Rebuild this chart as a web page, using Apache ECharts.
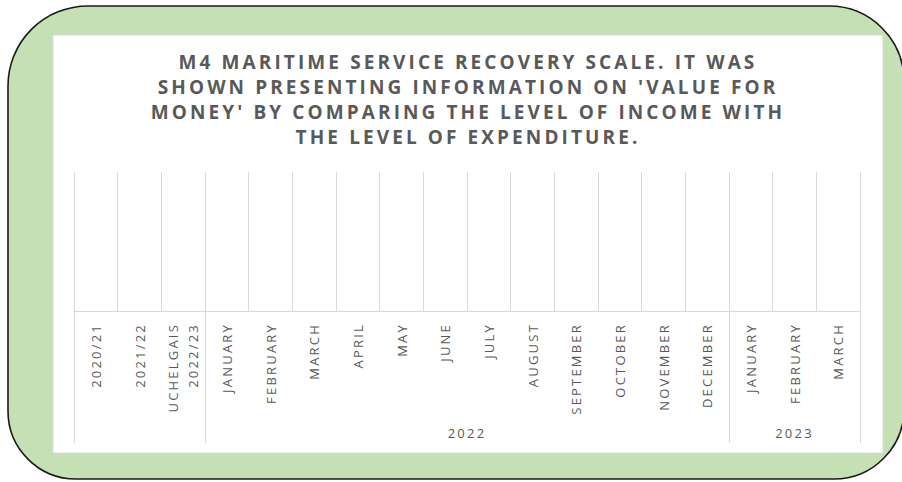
<!DOCTYPE html>
<html><head><meta charset="utf-8">
<script src="https://cdn.jsdelivr.net/npm/echarts@6/dist/echarts.min.js"></script>
<style>
html,body{margin:0;padding:0;background:#fff;}
#c{width:902px;height:482px;}
#c text{letter-spacing:2.2px;}
#c text[style*="bold"]{letter-spacing:3.1px;}
</style></head>
<body><div id="c"></div>
<script>
const titleText = "M4 MARITIME SERVICE RECOVERY SCALE. IT WAS\nSHOWN PRESENTING INFORMATION ON 'VALUE FOR\nMONEY' BY COMPARING THE LEVEL OF INCOME WITH\nTHE LEVEL OF EXPENDITURE.";
const categories = ['2020/21','2021/22','UCHELGAIS\n2022/23','JANUARY','FEBRUARY','MARCH','APRIL','MAY','JUNE','JULY','AUGUST','SEPTEMBER','OCTOBER','NOVEMBER','DECEMBER','JANUARY','FEBRUARY','MARCH'];
const groupNames = ['', '2022', '2023'];
const groupSizes = [3, 12, 3];
const values = [null,null,null,null,null,null,null,null,null,null,null,null,null,null,null,null,null,null];

// secondary axis: half-category slots so group labels can sit between categories
const slots = new Array(categories.length * 2 + 1).fill('');
const boundarySlots = new Set([0]);
let start = 0;
groupSizes.forEach((n, i) => {
  const end = start + n;
  boundarySlots.add(end * 2);
  slots[start + end] = groupNames[i];
  start = end;
});

const grey = '#595959';
const lineGrey = '#d9d9d9';
const font = 'Open Sans';

const chart = echarts.init(document.getElementById('c'), null, {renderer: 'svg'});
chart.setOption({
  animation: false,
  graphic: [
    {type: 'rect', z: -20, shape: {x: 8, y: 6, width: 896, height: 473, r: [80, 75, 70, 68]},
     style: {fill: '#C5E0B4', stroke: '#1a1a1a', lineWidth: 1.6}},
    {type: 'rect', z: -10, shape: {x: 53, y: 35, width: 830, height: 418},
     style: {fill: '#ffffff', stroke: lineGrey, lineWidth: 1}}
  ],
  title: {
    text: titleText,
    left: 468, top: 49, textAlign: 'center', padding: 0,
    textStyle: {color: grey, fontFamily: font, fontWeight: 'bold', fontSize: 19, lineHeight: 25}
  },
  grid: {left: 74, right: 42, top: 172, bottom: 171, containLabel: false},
  xAxis: [
    {
      type: 'category', data: categories, position: 'bottom',
      axisLine: {show: true, lineStyle: {color: lineGrey, width: 1}},
      axisTick: {show: false},
      splitLine: {show: true, lineStyle: {color: lineGrey, width: 1}},
      axisLabel: {interval: 0, rotate: 90, margin: 12, color: grey, fontFamily: font, fontSize: 13, lineHeight: 20}
    },
    {
      type: 'category', data: slots, position: 'bottom', boundaryGap: false,
      axisLine: {show: false},
      axisTick: {show: true, length: 132, interval: (i) => boundarySlots.has(i), lineStyle: {color: lineGrey, width: 1}},
      splitLine: {show: false},
      axisLabel: {interval: 0, margin: 115, color: grey, fontFamily: font, fontSize: 13}
    }
  ],
  yAxis: {type: 'value', show: false, splitLine: {show: false}},
  series: [{type: 'bar', xAxisIndex: 0, data: values}]
});
</script></body></html>
